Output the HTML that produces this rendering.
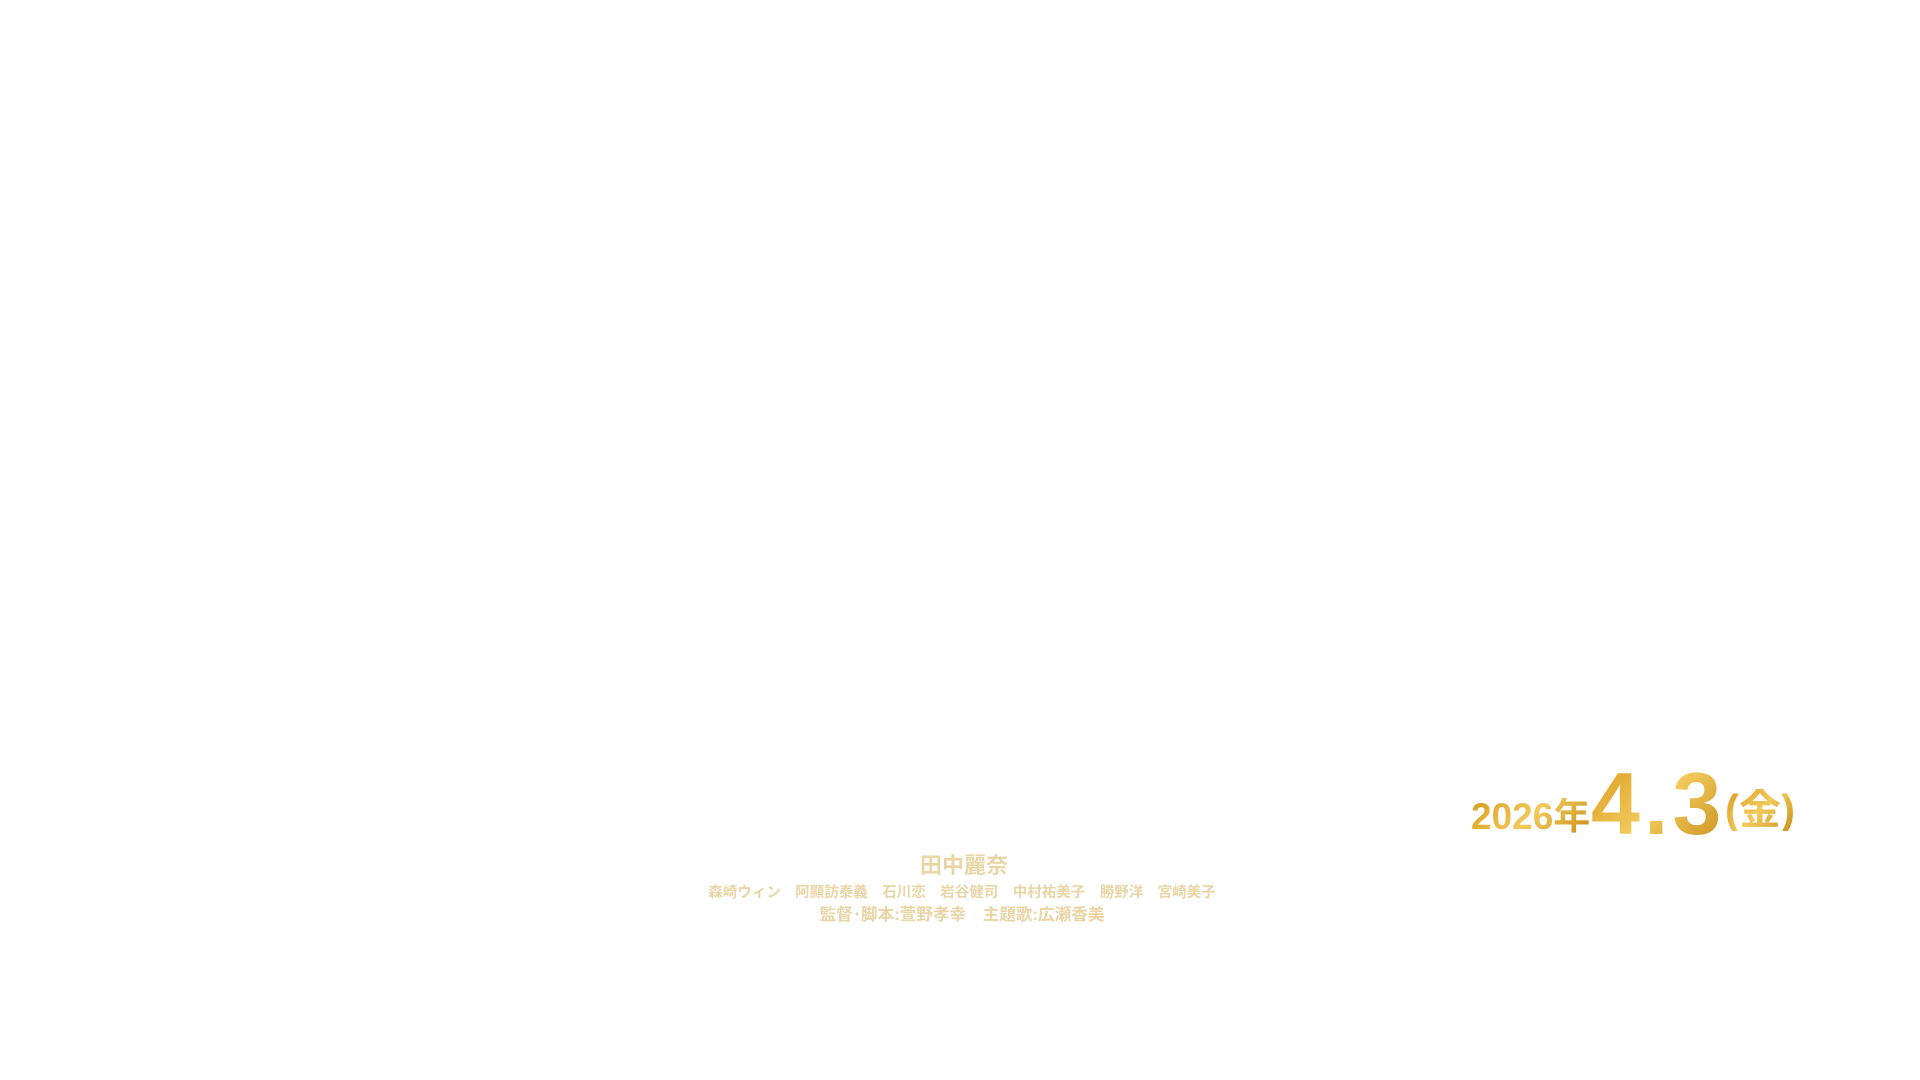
<!DOCTYPE html>
<html><head><meta charset="utf-8"><style>
body{margin:0;width:1920px;height:1080px;background:#fff;position:relative;overflow:hidden;font-family:"Liberation Sans","Noto Sans CJK JP",sans-serif;}
.c{position:absolute;left:0;width:1920px;text-align:center;color:#e9d5a6;font-weight:bold;white-space:nowrap;}
.g{position:absolute;font-weight:bold;white-space:nowrap;background:linear-gradient(135deg,#d99a1e,#f2c95a 50%,#c98f1c);-webkit-background-clip:text;background-clip:text;color:transparent;line-height:1;}
</style></head><body>
<div class="c" style="top:848px;font-size:22px;left:4px">田中麗奈</div>
<div class="c" style="top:881px;font-size:14.5px;left:2px">森崎ウィン　阿顯訪泰義　石川恋　岩谷健司　中村祐美子　勝野洋　宮崎美子</div>
<div class="c" style="top:901px;font-size:16.6px;left:2px">監督･脚本:萱野孝幸　主題歌:広瀬香美</div>
<div class="g" style="left:1471px;top:798px;font-size:37px;">2026年</div>
<div class="g" style="left:1591px;top:760px;font-size:88px;font-family:'Liberation Sans',sans-serif;letter-spacing:4px;">4.3</div>
<div class="g" style="left:1725px;top:789px;font-size:42px;">(金)</div>
</body></html>
